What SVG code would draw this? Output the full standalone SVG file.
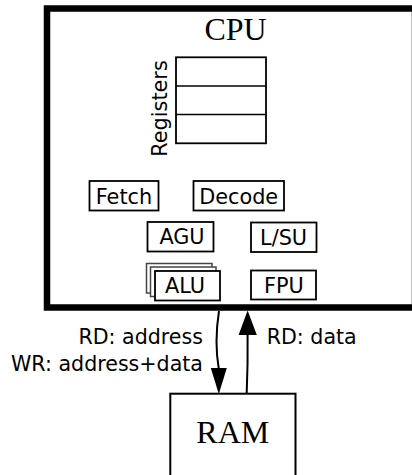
<svg xmlns="http://www.w3.org/2000/svg" width="412" height="475" viewBox="0 0 412 475">
  <style>
    .unit { fill: #fff; stroke: #000; stroke-width: 1.8; }
    .ghost { fill: #fff; stroke: #444; stroke-width: 1.5; }
    .lbl { font-family: "DejaVu Sans", "Liberation Sans", sans-serif; font-size: 20.8px; fill: #000; text-anchor: middle; }
    .big { font-family: "Liberation Serif", "Times New Roman", serif; font-size: 32px; fill: #000; text-anchor: middle; }
    .edge { fill: none; stroke: #000; stroke-width: 2; }
    .edge-lbl { font-family: "DejaVu Sans", "Liberation Sans", sans-serif; font-size: 20.6px; fill: #000; }
  </style>
  <rect width="412" height="475" fill="#fff"/>

  <!-- processor enclosure -->
  <g id="cpu">
    <rect x="47" y="8.5" width="368" height="299" fill="#fff" stroke="#000" stroke-width="6.5"/>
    <text class="big" x="235.5" y="40">CPU</text>
  </g>

  <!-- register file: three stacked slots -->
  <g id="registers">
    <rect class="unit" x="176" y="57.3" width="90" height="86" stroke-width="1.6"/>
    <line x1="176" y1="86" x2="266" y2="86" stroke="#000" stroke-width="1.6"/>
    <line x1="176" y1="114.5" x2="266" y2="114.5" stroke="#000" stroke-width="1.6"/>
    <text class="lbl" transform="translate(166.8,108.5) rotate(-90)" x="0" y="0">Registers</text>
  </g>

  <g id="fetch">
    <rect class="unit" x="89.5" y="181" width="69" height="29.5"/>
    <text class="lbl" x="124" y="204.3">Fetch</text>
  </g>

  <g id="decode">
    <rect class="unit" x="193.5" y="181" width="90.5" height="29.5"/>
    <text class="lbl" x="238.7" y="204.3">Decode</text>
  </g>

  <g id="agu">
    <rect class="unit" x="147.5" y="222" width="66" height="29.5"/>
    <text class="lbl" x="182" y="244.3">AGU</text>
  </g>

  <g id="lsu">
    <rect class="unit" x="251" y="222.5" width="65.5" height="29.5"/>
    <text class="lbl" x="283.6" y="244.8">L/SU</text>
  </g>

  <!-- several ALUs drawn as an offset stack -->
  <g id="alu">
    <rect class="ghost" x="146.5" y="263.5" width="65.5" height="29.5"/>
    <rect class="ghost" x="150.5" y="267" width="65.5" height="29.5"/>
    <rect class="unit" x="155" y="271" width="65" height="29.5"/>
    <text class="lbl" x="185" y="293.3">ALU</text>
  </g>

  <g id="fpu">
    <rect class="unit" x="251" y="270.5" width="65" height="29"/>
    <text class="lbl" x="283.8" y="292.8">FPU</text>
  </g>

  <!-- main memory -->
  <g id="ram">
    <rect x="170.3" y="393.7" width="125.2" height="100" fill="#fff" stroke="#000" stroke-width="2"/>
    <text class="big" x="232.8" y="443.3">RAM</text>
  </g>

  <!-- bus transfers between processor and memory -->
  <g id="connectors">
    <path class="edge" d="M219,311 C216,330 215.5,350 218.8,369"/>
    <polygon points="210.8,368 226.8,368 218.8,394" fill="#000"/>
    <path class="edge" d="M246.7,393 C247.6,372 247.8,352 247.6,334"/>
    <polygon points="238.6,335 256.8,335 247.6,310.5" fill="#000"/>
    <text class="edge-lbl" x="203" y="344.3" text-anchor="end">RD: address</text>
    <text class="edge-lbl" x="203" y="371" text-anchor="end">WR: address+data</text>
    <text class="edge-lbl" x="266.7" y="344.3">RD: data</text>
  </g>
</svg>
